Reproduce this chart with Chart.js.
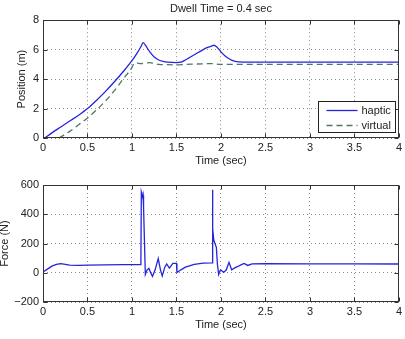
<!DOCTYPE html>
<html><head><meta charset="utf-8">
<script src="https://cdn.jsdelivr.net/npm/chart.js@4"></script>
<style>html,body{margin:0;padding:0;background:#fff}#c1{position:absolute;left:0;top:0}#c2{position:absolute;left:0;top:170px}</style>
</head><body>
<canvas id="c1" width="405" height="170"></canvas>
<canvas id="c2" width="405" height="169"></canvas>
<script>
const titleText = "Dwell Time = 0.4 sec";
const xTitle = "Time (sec)";
const posTitle = "Position (m)";
const forceTitle = "Force (N)";
const seriesNames = ["haptic", "virtual"];

const hapticT = [0.02,0.1,0.2,0.3,0.4,0.5,0.6,0.7,0.8,0.9,1.0,1.05,1.1,1.125,1.15,1.2,1.25,1.3,1.35,1.4,1.5,1.55,1.6,1.7,1.8,1.85,1.9,1.92,1.95,2.0,2.05,2.1,2.15,2.2,2.5,3,3.5,4];
const hapticPos = [0,0.35,0.75,1.15,1.55,2.0,2.55,3.15,3.8,4.5,5.25,5.7,6.2,6.48,6.3,5.85,5.5,5.3,5.2,5.15,5.12,5.15,5.3,5.65,6.0,6.15,6.25,6.3,6.2,5.85,5.55,5.35,5.22,5.17,5.15,5.15,5.15,5.15];

const virtualT = [0.18,0.3,0.4,0.5,0.6,0.7,0.8,0.9,1.0,1.02,1.05,1.1,1.15,1.2,1.25,1.3,1.4,1.5,1.6,1.7,1.8,1.9,2.0,2.1,2.5,3,3.5,4];
const virtualPos = [0,0.45,0.9,1.35,1.9,2.5,3.2,4.0,4.8,5.05,5.1,5.05,5.08,5.12,5.05,5.0,4.98,4.97,5.0,5.02,5.04,5.05,5.0,5.0,5.0,5.0,5.0,5.0];

const forceT = [0,0.05,0.1,0.15,0.2,0.25,0.3,0.4,0.5,0.7,0.9,1.1,1.105,1.11,1.12,1.125,1.13,1.15,1.17,1.19,1.21,1.23,1.26,1.295,1.32,1.34,1.37,1.39,1.42,1.46,1.5,1.505,1.55,1.6,1.7,1.8,1.9,1.903,1.91,1.92,1.948,1.96,1.974,1.99,2.0,2.03,2.06,2.09,2.12,2.16,2.19,2.23,2.26,2.3,2.35,2.5,3,3.5,4];
const forceVals = [5,25,45,57,62,58,52,50,52,54,55,56,552,540,515,530,450,-12,20,30,0,-25,20,97,20,-22,40,60,32,64,64,2,20,38,57,66,68,568,300,220,174,60,-12,15,18,2,20,71,20,35,43,55,64,50,60,62,61,60,60];

const xTicks = [0,0.5,1,1.5,2,2.5,3,3.5,4];

const BLUE = "#2424dc";
const GREEN = "#4d7a5a";
const FONT = {family: "'Liberation Sans', Arial, sans-serif", size: 11};
Chart.defaults.font = FONT;
Chart.defaults.color = "#222";

const zip = (t, v) => t.map((x, i) => ({x, y: v[i]}));

const framePlugin = {
  id: 'frame',
  afterDraw(chart) {
    const {ctx, chartArea: a, scales} = chart;
    ctx.save();
    ctx.strokeStyle = '#333';
    ctx.lineWidth = 1;
    const L = Math.round(a.left) + 0.5, R = Math.round(a.right) - 0.5;
    const T = Math.round(a.top) + 0.5, B = Math.round(a.bottom) - 0.5;
    ctx.strokeRect(L, T, R - L, B - T);
    ctx.beginPath();
    scales.x.ticks.forEach(tk => {
      const px = Math.round(scales.x.getPixelForValue(tk.value)) + 0.5;
      ctx.moveTo(px, B); ctx.lineTo(px, B - 4);
      ctx.moveTo(px, T); ctx.lineTo(px, T + 4);
    });
    scales.y.ticks.forEach(tk => {
      const py = Math.round(scales.y.getPixelForValue(tk.value)) + 0.5;
      ctx.moveTo(L, py); ctx.lineTo(L + 4, py);
      ctx.moveTo(R, py); ctx.lineTo(R - 4, py);
    });
    ctx.stroke();
    const lg = chart.options.plugins.insideLegend;
    if (lg && lg.display) {
      const w = 77, h = 31;
      const x0 = Math.round(a.right) - 4 - w + 0.5, y0 = Math.round(a.bottom) - 6 - h + 0.5;
      ctx.fillStyle = '#fff';
      ctx.fillRect(x0, y0, w, h);
      ctx.strokeStyle = '#222';
      ctx.strokeRect(x0, y0, w, h);
      ctx.font = "11px 'Liberation Sans', Arial, sans-serif";
      ctx.textBaseline = 'middle';
      chart.data.datasets.forEach((ds, i) => {
        const yy = y0 + 9 + i * 15;
        ctx.strokeStyle = ds.borderColor;
        ctx.lineWidth = ds.borderWidth;
        ctx.setLineDash(ds.borderDash || []);
        ctx.beginPath();
        ctx.moveTo(x0 + 8, yy); ctx.lineTo(x0 + 39, yy);
        ctx.stroke();
        ctx.setLineDash([]);
        ctx.fillStyle = '#222';
        ctx.fillText(ds.label, x0 + 43, yy);
      });
    }
    ctx.restore();
  }
};

function xScale(height, titlePadBottom) {
  return {
    type: 'linear', min: 0, max: 4,
    afterBuildTicks: s => { s.ticks = xTicks.map(v => ({value: v})); },
    afterFit: s => { s.height = height; },
    grid: {color: '#8a8a8a', drawTicks: false},
    border: {display: false, dash: [1, 3]},
    ticks: {padding: 3, color: '#222', font: FONT, maxRotation: 0, autoSkip: false, callback: v => String(v)},
    title: {display: true, text: xTitle, color: '#222', font: FONT, padding: {top: 0, bottom: titlePadBottom}}
  };
}
function yScale(min, max, step, title, titlePadTop) {
  return {
    min, max,
    afterFit: s => { s.width = 43; },
    grid: {color: '#8a8a8a', drawTicks: false},
    border: {display: false, dash: [1, 3]},
    ticks: {stepSize: step, padding: 4, color: '#222', font: FONT,
      callback: v => String(v).replace('-', '\u2212')},
    title: {display: true, text: title, color: '#222', font: FONT, padding: {top: titlePadTop, bottom: 0}}
  };
}

new Chart(document.getElementById('c1'), {
  type: 'line',
  data: {datasets: [
    {label: seriesNames[0], data: zip(hapticT, hapticPos), borderColor: BLUE, borderWidth: 1.3, pointRadius: 0, fill: false, cubicInterpolationMode: 'monotone'},
    {label: seriesNames[1], data: zip(virtualT, virtualPos), borderColor: GREEN, borderWidth: 1.3, borderDash: [6, 4], pointRadius: 0, fill: false, cubicInterpolationMode: 'monotone'}
  ]},
  options: {
    responsive: false, animation: false, devicePixelRatio: 1,
    layout: {padding: {left: 0, right: 5, top: 0, bottom: 0}},
    plugins: {
      legend: {display: false}, tooltip: {enabled: false},
      title: {display: true, text: titleText, color: '#222', font: {...FONT, weight: 'normal'}, padding: {top: 2, bottom: 5}, fullSize: false},
      insideLegend: {display: true}
    },
    scales: {x: xScale(32, 2), y: yScale(0, 8, 2, posTitle, 15)}
  },
  plugins: [framePlugin]
});

new Chart(document.getElementById('c2'), {
  type: 'line',
  data: {datasets: [
    {label: 'force', data: zip(forceT, forceVals), borderColor: BLUE, borderWidth: 1.3, pointRadius: 0, fill: false, tension: 0}
  ]},
  options: {
    responsive: false, animation: false, devicePixelRatio: 1,
    layout: {padding: {left: 0, right: 5, top: 15, bottom: 0}},
    plugins: {legend: {display: false}, tooltip: {enabled: false}, title: {display: false}, insideLegend: {display: false}},
    scales: {x: xScale(37, 7), y: yScale(-200, 600, 200, forceTitle, -2)}
  },
  plugins: [framePlugin]
});
</script>
</body></html>
